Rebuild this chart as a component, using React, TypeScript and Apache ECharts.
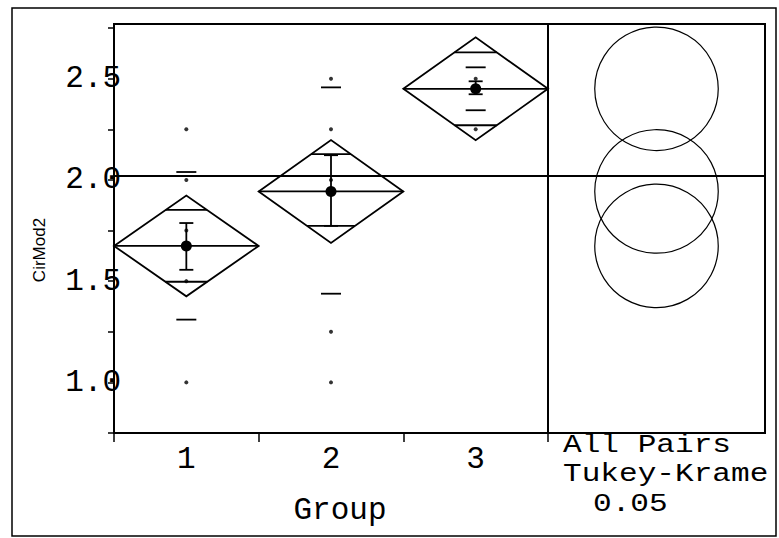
import React, { useEffect, useRef } from 'react';
import * as echarts from 'echarts';

// ---- data ----
const groups = ['1', '2', '3'];
const groupMeans = [1.674, 1.943, 2.45];
const ciHalfWidths = [0.249, 0.254, 0.254];
const overlapUpper = [1.852, 2.127, 2.63];
const overlapLower = [1.497, 1.773, 2.27];
const seUpper = [1.787, 2.122, 2.487];
const seLower = [1.556, 1.773, 2.423];
const sdUpper = [2.039, 2.457, 2.556];
const sdLower = [1.31, 1.438, 2.344];
const grandMean = 2.024;
const circleRadii = [0.305, 0.305, 0.305];
const group1Points = [2.25, 2.0, 1.75, 1.5, 1.0];
const group2Points = [2.5, 2.25, 2.0, 1.25, 1.0];
const group3Points = [2.5, 2.25];
const yTickLabels = [1.0, 1.5, 2.0, 2.5];
const yMin = 0.75;
const yMax = 2.77;
const yTitle = 'CirMod2';
const notes = ['All Pairs', 'Tukey-Krame', '0.05'];

const MONO = 'Liberation Mono, DejaVu Sans Mono, monospace';
const SANS = 'Liberation Sans, Arial, sans-serif';

export default function App() {
  const ref = useRef<HTMLDivElement>(null);

  useEffect(() => {
    if (!ref.current) return;
    const chart = echarts.init(ref.current, null, { renderer: 'svg' });

    const pointSets = [group1Points, group2Points, group3Points];
    const scatterData: number[][] = [];
    pointSets.forEach((pts, gi) => pts.forEach((v) => scatterData.push([gi, v])));

    const diamondData = groups.map((_, i) => [
      i,
      groupMeans[i],
      ciHalfWidths[i],
      overlapUpper[i],
      overlapLower[i],
      seUpper[i],
      seLower[i],
      sdUpper[i],
      sdLower[i],
    ]);

    const circleData = groups.map((_, i) => [0.5, groupMeans[i], circleRadii[i]]);

    const lineStyle = { stroke: '#000', lineWidth: 1.8 };

    const option: any = {
      animation: false,
      backgroundColor: '#fff',
      grid: [
        { left: 114, top: 24, width: 434, height: 409, show: true, borderColor: '#000', borderWidth: 2, backgroundColor: 'transparent' },
        { left: 548, top: 24, width: 217, height: 409, show: true, borderColor: '#000', borderWidth: 2, backgroundColor: 'transparent' },
      ],
      xAxis: [
        {
          type: 'category',
          gridIndex: 0,
          data: groups,
          boundaryGap: true,
          axisLine: { show: true, lineStyle: { color: '#000', width: 2 } },
          axisTick: { show: true, length: 9, lineStyle: { color: '#000', width: 1.5 } },
          axisLabel: { interval: 0, margin: 11, fontFamily: MONO, fontSize: 31, color: '#000' },
          splitLine: { show: false },
          name: 'Group',
          nameLocation: 'middle',
          nameGap: 62,
          nameTextStyle: { fontFamily: MONO, fontSize: 31, color: '#000', padding: [0, 0, 0, 18] },
        },
        { type: 'value', gridIndex: 1, min: 0, max: 1, show: false },
      ],
      yAxis: [
        {
          type: 'value',
          gridIndex: 0,
          min: yMin,
          max: yMax,
          interval: 0.25,
          axisLine: { show: true, lineStyle: { color: '#000', width: 2 } },
          axisTick: { show: true, length: 6, lineStyle: { color: '#000', width: 1.5 } },
          axisLabel: {
            margin: -7,
            fontFamily: MONO,
            fontSize: 31,
            color: '#000',
            showMaxLabel: false,
            formatter: (v: number) =>
              yTickLabels.some((t) => Math.abs(t - v) < 1e-6) ? v.toFixed(1) : '',
          },
          splitLine: { show: false },
        },
        { type: 'value', gridIndex: 1, min: yMin, max: yMax, show: false },
      ],
      series: [
        {
          type: 'custom',
          name: 'means diamonds',
          xAxisIndex: 0,
          yAxisIndex: 0,
          encode: { x: 0, y: 1 },
          data: diamondData,
          renderItem: (params: any, api: any) => {
            const i = api.value(0);
            const mean = api.value(1);
            const ci = api.value(2);
            const c = api.coord([i, mean]);
            const half = api.size([1, 0])[0] / 2;
            const top = api.coord([i, mean + ci])[1];
            const bot = api.coord([i, mean - ci])[1];
            const hh = c[1] - top;
            const widthAt = (yp: number) => half * Math.max(0, 1 - Math.abs(yp - c[1]) / hh);
            const children: any[] = [];
            children.push({
              type: 'polygon',
              shape: { points: [[c[0] - half, c[1]], [c[0], top], [c[0] + half, c[1]], [c[0], bot]] },
              style: { fill: 'none', ...lineStyle },
            });
            children.push({
              type: 'line',
              shape: { x1: c[0] - half, y1: c[1], x2: c[0] + half, y2: c[1] },
              style: lineStyle,
            });
            [api.value(3), api.value(4)].forEach((v: number) => {
              const yp = api.coord([i, v])[1];
              const w = widthAt(yp);
              children.push({
                type: 'line',
                shape: { x1: c[0] - w, y1: yp, x2: c[0] + w, y2: yp },
                style: lineStyle,
              });
            });
            const seT = api.coord([i, api.value(5)])[1];
            const seB = api.coord([i, api.value(6)])[1];
            children.push({ type: 'line', shape: { x1: c[0], y1: seT, x2: c[0], y2: seB }, style: lineStyle });
            children.push({ type: 'line', shape: { x1: c[0] - 7, y1: seT, x2: c[0] + 7, y2: seT }, style: lineStyle });
            children.push({ type: 'line', shape: { x1: c[0] - 7, y1: seB, x2: c[0] + 7, y2: seB }, style: lineStyle });
            [api.value(7), api.value(8)].forEach((v: number) => {
              const yp = api.coord([i, v])[1];
              children.push({
                type: 'line',
                shape: { x1: c[0] - 10, y1: yp, x2: c[0] + 10, y2: yp },
                style: lineStyle,
              });
            });
            children.push({
              type: 'circle',
              shape: { cx: c[0], cy: c[1], r: 5.5 },
              style: { fill: '#000', stroke: 'none' },
            });
            return { type: 'group', children };
          },
          z: 3,
        },
        {
          type: 'scatter',
          name: 'observations',
          xAxisIndex: 0,
          yAxisIndex: 0,
          data: scatterData,
          symbol: 'circle',
          symbolSize: 4,
          itemStyle: { color: '#000' },
          z: 4,
          markLine: {
            silent: true,
            symbol: ['none', 'none'],
            label: { show: false },
            lineStyle: { color: '#000', width: 2, type: 'solid' },
            data: [{ yAxis: grandMean }],
          },
        },
        {
          type: 'custom',
          name: 'comparison circles',
          xAxisIndex: 1,
          yAxisIndex: 1,
          encode: { x: 0, y: 1 },
          data: circleData,
          renderItem: (params: any, api: any) => {
            const c = api.coord([api.value(0), api.value(1)]);
            const r = api.size([0, api.value(2)])[1];
            return {
              type: 'circle',
              shape: { cx: c[0], cy: c[1], r },
              style: { fill: 'none', stroke: '#000', lineWidth: 1.2 },
            };
          },
          markLine: {
            silent: true,
            symbol: ['none', 'none'],
            label: { show: false },
            lineStyle: { color: '#000', width: 2, type: 'solid' },
            data: [{ yAxis: grandMean }],
          },
        },
      ],
      graphic: [
        {
          type: 'rect',
          shape: { x: 12, y: 8, width: 764, height: 528 },
          style: { fill: 'none', stroke: '#000', lineWidth: 1.5 },
          silent: true,
        },
        {
          type: 'text',
          x: 39,
          y: 250,
          rotation: Math.PI / 2,
          style: {
            text: yTitle,
            font: `17px ${SANS}`,
            fill: '#000',
            align: 'center',
            verticalAlign: 'middle',
          },
          silent: true,
        },
        ...notes.map((t, k) => ({
          type: 'text',
          x: k === 2 ? 593 : 563,
          y: 445 + k * 29.5,
          scaleX: 1.22,
          style: {
            text: t,
            font: `25.5px ${MONO}`,
            fill: '#000',
            align: 'left',
            verticalAlign: 'middle',
          },
          silent: true,
        })),
      ],
    };

    chart.setOption(option);
    return () => chart.dispose();
  }, []);

  return (
    <div
      ref={ref}
      style={{ position: 'absolute', left: 0, top: 0, width: 779, height: 538, background: '#fff' }}
    />
  );
}
